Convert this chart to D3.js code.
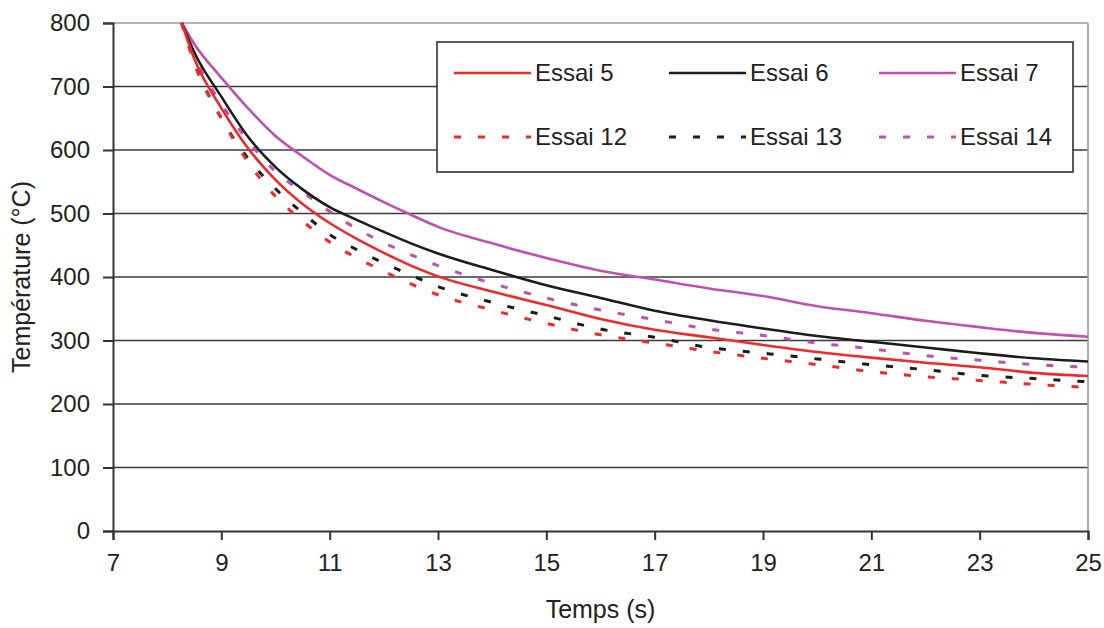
<!DOCTYPE html>
<html><head><meta charset="utf-8">
<script src="https://cdn.jsdelivr.net/npm/d3@7"></script>
<style>body{margin:0;background:#fff}svg text{font-family:"Liberation Sans",Arial,sans-serif;fill:#222}</style>
</head><body>
<svg id="c" width="1104" height="628"></svg>
<script>
const times   = [8.27, 8.5, 9, 9.5, 10, 10.5, 11, 11.5, 12, 12.5, 13, 14, 15, 16, 17, 18, 19, 20, 21, 22, 23, 24, 25];
const essai5  = [800, 744, 666, 602, 553, 515, 485, 460, 438, 418, 401, 377, 356, 334, 317, 305, 293, 282, 273, 265, 258, 249, 244];
const essai6  = [800, 754, 684, 620, 573, 538, 510, 490, 471, 453, 437, 411, 387, 367, 347, 332, 319, 307, 298, 289, 280, 272, 267];
const essai7  = [800, 767, 714, 665, 622, 590, 561, 539, 518, 498, 479, 453, 430, 410, 396, 382, 370, 354, 343, 331, 321, 312, 306];
const essai12 = [800, 737, 650, 580, 527, 488, 455, 430, 409, 389, 372, 348, 327, 309, 296, 283, 272, 262, 251, 243, 237, 231, 226];
const essai13 = [800, 739, 650, 586, 539, 501, 467, 443, 422, 403, 385, 360, 339, 318, 305, 289, 280, 271, 262, 254, 245, 240, 235];
const essai14 = [800, 748, 673, 614, 566, 534, 503, 476, 454, 435, 418, 390, 367, 348, 333, 318, 308, 296, 287, 276, 269, 262, 258];
const seriesNames = ["Essai 5", "Essai 6", "Essai 7", "Essai 12", "Essai 13", "Essai 14"];
const seriesValues = [essai5, essai6, essai7, essai12, essai13, essai14];
const xTicks = [7, 9, 11, 13, 15, 17, 19, 21, 23, 25];
const yTicks = [0, 100, 200, 300, 400, 500, 600, 700, 800];
const xTitle = "Temps (s)";
const yTitle = "Température (°C)";

const colors = ["#ee2a2a", "#1c1c1c", "#c050b0", "#ee2a2a", "#1c1c1c", "#c050b0"];
const dashed = [false, false, false, true, true, true];

const svg = d3.select("#c");
const L = 113, R = 1088, T = 23, B = 531;
const x = d3.scaleLinear().domain([7, 25]).range([L, R]);
const y = d3.scaleLinear().domain([0, 800]).range([B, T]);

// gridlines
svg.append("g").selectAll("line").data(yTicks.filter(v => v > 0)).join("line")
  .attr("x1", L).attr("x2", R).attr("y1", d => y(d)).attr("y2", d => y(d))
  .attr("stroke", d => d === 800 ? "#9a9a9a" : "#3a3a3a").attr("stroke-width", 1.6);
// right border
svg.append("line").attr("x1", R).attr("x2", R).attr("y1", T).attr("y2", B)
  .attr("stroke", "#9a9a9a").attr("stroke-width", 1.6);

// axes
const fs = 24;
const yAxis = svg.append("g").attr("transform", `translate(${L},0)`)
  .call(d3.axisLeft(y).tickValues(yTicks).tickSize(10).tickPadding(13).tickFormat(d3.format("d")));
const xAxis = svg.append("g").attr("transform", `translate(0,${B})`)
  .call(d3.axisBottom(x).tickValues(xTicks).tickSize(9).tickPadding(14).tickFormat(d3.format("d")));
[yAxis, xAxis].forEach(a => {
  a.select(".domain").attr("stroke", "#333").attr("stroke-width", 2);
  a.selectAll(".tick line").attr("stroke", "#333").attr("stroke-width", 2);
  a.selectAll(".tick text").attr("font-size", fs).attr("fill", "#222")
   .style("font-family", "'Liberation Sans', Arial, sans-serif");
});

// clip
svg.append("clipPath").attr("id", "clip").append("rect")
  .attr("x", L).attr("y", T - 2).attr("width", R - L).attr("height", B - T + 2);

const line = d3.line().x(d => x(d[0])).y(d => y(d[1])).curve(d3.curveMonotoneX);
const order = [2, 5, 1, 4, 0, 3];
const g = svg.append("g").attr("clip-path", "url(#clip)");
order.forEach(i => {
  const pts = times.map((t, k) => [t, seriesValues[i][k]]);
  g.append("path").attr("d", line(pts)).attr("fill", "none")
    .attr("stroke", colors[i]).attr("stroke-width", dashed[i] ? 3 : 2.6)
    .attr("stroke-dasharray", dashed[i] ? "7,17" : null);
});

// axis titles
svg.append("text").attr("x", (L + R) / 2 + 0).attr("y", 618).attr("text-anchor", "middle")
  .attr("font-size", 25).text(xTitle);
svg.append("text").attr("transform", "translate(30,277) rotate(-90)").attr("text-anchor", "middle")
  .attr("font-size", 25).text(yTitle);

// legend
const lg = svg.append("g");
lg.append("rect").attr("x", 437).attr("y", 42).attr("width", 636).attr("height", 130)
  .attr("fill", "#fff").attr("stroke", "#333").attr("stroke-width", 1.6);
const colX = [454, 669, 879];
const rowY = [73, 137];
seriesNames.forEach((n, i) => {
  const cx = colX[i % 3], cy = rowY[Math.floor(i / 3)];
  lg.append("line").attr("x1", cx).attr("x2", cx + 77).attr("y1", cy).attr("y2", cy)
    .attr("stroke", colors[i]).attr("stroke-width", dashed[i] ? 3 : 2.6)
    .attr("stroke-dasharray", dashed[i] ? "7,17" : null);
  lg.append("text").attr("x", cx + 81).attr("y", cy).attr("dy", "0.35em")
    .attr("font-size", fs).text(n);
});
</script>
</body></html>
